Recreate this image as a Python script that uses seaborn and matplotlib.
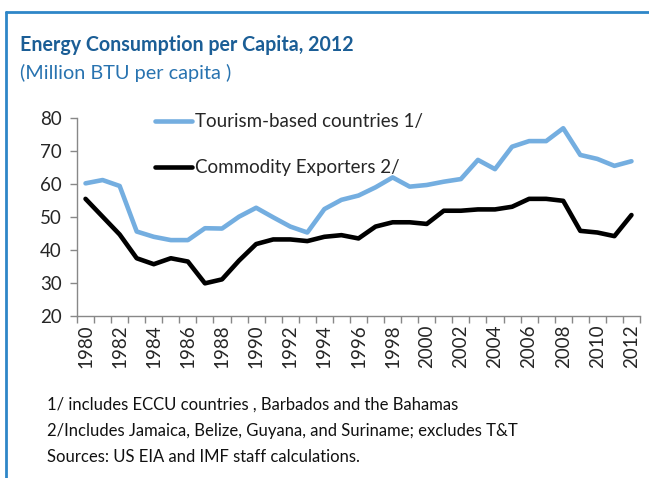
"""Energy consumption per capita, Caribbean groups, 1980-2012."""

import matplotlib
matplotlib.use("Agg")
import matplotlib.pyplot as plt
import numpy as np
import pandas as pd
import seaborn as sns
from matplotlib.lines import Line2D
from matplotlib.ticker import FixedLocator

years = list(range(1980, 2013))
tourism = [60.2, 61.2, 59.4, 45.6, 44.0, 43.0, 43.0, 46.6, 46.5, 50.1, 52.8,
           49.9, 47.1, 45.3, 52.4, 55.2, 56.5, 59.0, 62.0, 59.2, 59.7, 60.7,
           61.5, 67.3, 64.5, 71.3, 73.0, 73.0, 76.9, 68.8, 67.6, 65.5, 66.9]
commodity = [55.5, 50.1, 44.7, 37.5, 35.7, 37.5, 36.5, 29.9, 31.1, 36.8, 41.8,
             43.2, 43.2, 42.7, 44.0, 44.5, 43.5, 47.1, 48.4, 48.4, 47.9, 51.9,
             51.9, 52.3, 52.3, 53.1, 55.5, 55.5, 54.9, 45.8, 45.3, 44.2, 50.6]
series_names = ["Tourism-based countries 1/", "Commodity Exporters 2/"]
series_colors = ["#74AEE0", "#000000"]
y_ticks = [20, 30, 40, 50, 60, 70, 80]

title = "Energy Consumption per Capita, 2012"
subtitle = "(Million BTU per capita )"
notes = [
    "1/ includes ECCU countries , Barbados and the Bahamas",
    "2/Includes Jamaica, Belize, Guyana, and Suriname; excludes T&T",
    "Sources: US EIA and IMF staff calculations.",
]

df = pd.DataFrame({
    "Year": years * 2,
    "Value": tourism + commodity,
    "Series": [series_names[0]] * len(years) + [series_names[1]] * len(years),
})

sns.set_style("white")
plt.rcParams["font.family"] = ["Lato", "DejaVu Sans"]

fig = plt.figure(figsize=(6.49, 4.78), dpi=100)
ax = fig.add_axes([77 / 649, 1 - 316 / 478, (640 - 77) / 649, (316 - 118) / 478])

sns.lineplot(data=df, x="Year", y="Value", hue="Series",
             palette=dict(zip(series_names, series_colors)),
             linewidth=3.3, ax=ax, legend=False)

ax.set_xlim(years[0] - 0.5, years[-1] + 0.5)
ax.set_ylim(y_ticks[0], y_ticks[-1])
ax.set_yticks(y_ticks)
ax.set_xticks(years[::2])
ax.set_xticklabels([str(y) for y in years[::2]], rotation=90)
ax.xaxis.set_minor_locator(FixedLocator(np.arange(years[0] - 0.5, years[-1] + 1, 1)))
ax.tick_params(axis="x", which="major", length=0, pad=6, labelsize=13.5)
ax.tick_params(axis="x", which="minor", length=5, width=1, color="#888888",
               direction="out", bottom=True)
ax.tick_params(axis="y", which="major", length=5, width=1, color="#888888",
               direction="out", left=True, labelsize=13.5, pad=6)
ax.set_xlabel("")
ax.set_ylabel("")
for side in ["top", "right"]:
    ax.spines[side].set_visible(False)
for side in ["left", "bottom"]:
    ax.spines[side].set_color("#888888")
    ax.spines[side].set_linewidth(1)

handles = [Line2D([], [], color=c, lw=3.3) for c in series_colors]
ax.legend(handles, series_names, loc="upper left", bbox_to_anchor=(0.108, 1.11),
          frameon=False, fontsize=13.5, handlelength=2.0, handletextpad=0.15,
          labelspacing=1.55)

fig.text(20 / 649, 1 - 45 / 478, title, fontsize=14.1, fontweight="bold",
         color="#1B5E96", va="center")
fig.text(20 / 649, 1 - 73 / 478, subtitle, fontsize=14.3, color="#2873B0",
         va="center")
for i, line in enumerate(notes):
    fig.text(47 / 649, 1 - (405 + i * 26) / 478, line, fontsize=12.0,
             color="#111111", va="center")

# blue frame (top and left)
fig.add_artist(Line2D([6 / 649, 1], [1 - 12 / 478, 1 - 12 / 478],
                      color="#2E86C8", lw=2, transform=fig.transFigure))
fig.add_artist(Line2D([6 / 649, 6 / 649], [0, 1 - 12 / 478],
                      color="#2E86C8", lw=2, transform=fig.transFigure))

fig.savefig("out.png", dpi=100)
